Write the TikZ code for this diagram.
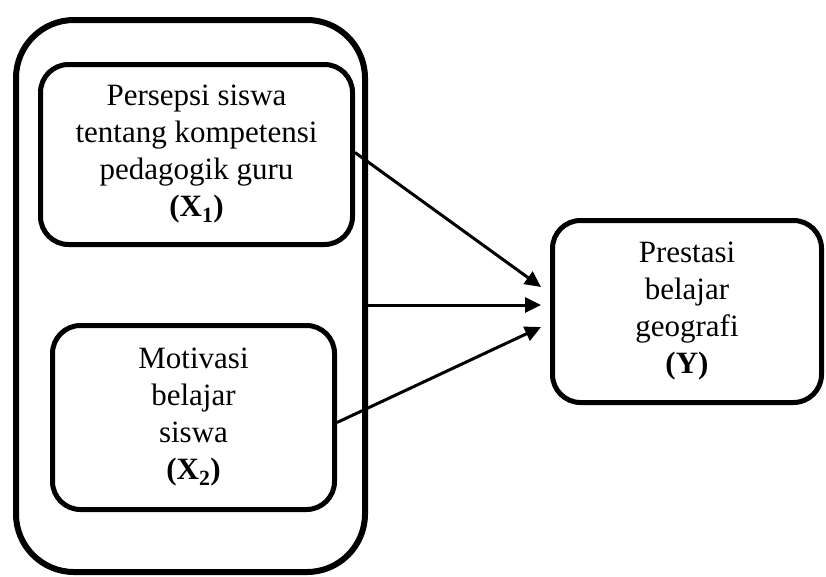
\documentclass[tikz,border=0pt]{standalone}
\usepackage{fontspec}
\setmainfont{Liberation Serif}
\usetikzlibrary{arrows.meta,calc}
\begin{document}
\begin{tikzpicture}[x=1pt,y=-1pt,
  box/.style={draw,line width=5pt,rounded corners=28pt,align=center,inner sep=0pt,
    font=\fontsize{31}{37}\selectfont},
  conn/.style={line width=3pt,-{Triangle[length=16pt,width=15pt]}}]
\useasboundingbox (0,0) rectangle (826,576);
\draw[line width=6pt,rounded corners=58pt] (16,20) rectangle (365,572);
\node[box,minimum width=312pt,minimum height=180pt] (x1) at (196.5,154.5)
  {Persepsi siswa\\tentang kompetensi\\pedagogik guru\\\textbf{(X\textsubscript{1})}};
\node[box,minimum width=282pt,minimum height=184pt] (x2) at (193.5,417.5)
  {Motivasi\\belajar\\siswa\\\textbf{(X\textsubscript{2})}};
\node[box,minimum width=269pt,minimum height=182pt] (y) at (687,311.5)
  {Prestasi\\belajar\\geografi\\\textbf{(Y)}};
\coordinate (outerR) at (368,305);
\coordinate (t1) at (541,287);
\coordinate (t2) at (541,305);
\coordinate (t3) at (541,327);
\draw[conn] ($(x1.east)+(0,-2)$) -- (t1);
\draw[conn] (outerR) -- (t2);
\draw[conn] ($(x2.east)+(0,5)$) -- (t3);
\end{tikzpicture}
\end{document}
